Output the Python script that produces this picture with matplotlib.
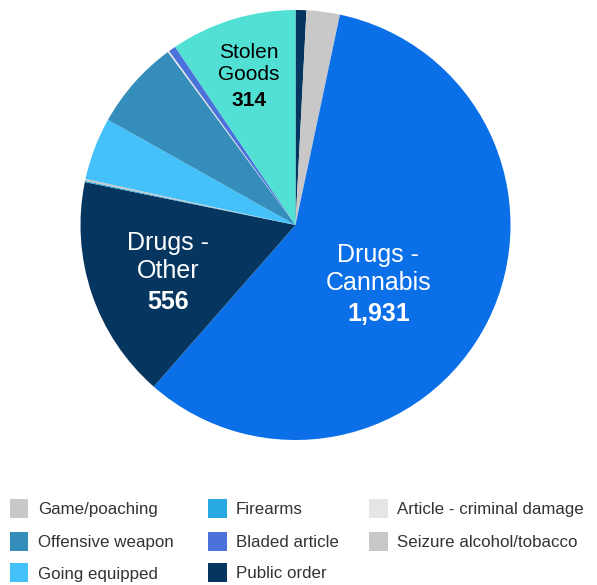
import matplotlib
matplotlib.use("Agg")
import matplotlib.pyplot as plt
from matplotlib.patches import Rectangle

plt.rcParams['font.family'] = ['Liberation Sans', 'DejaVu Sans']

# ---- data (clockwise from 12 o'clock) ----
categories = ["Public order", "Seizure alcohol/tobacco", "Drugs - Cannabis", "Drugs - Other",
              "Firearms", "Game/poaching", "Going equipped", "Offensive weapon",
              "Article - criminal damage", "Bladed article", "Stolen Goods"]
values = [27, 83, 1931, 556, 3, 5, 156, 224, 4, 18, 314]
colors = ["#06365f", "#c8c8c8", "#0b6fe8", "#06365f",
          "#29a9e1", "#c8c8c8", "#45c1fa", "#358dbb",
          "#e5e5e5", "#4a72da", "#52e0d4"]

# labelled slices
label_names = ["Drugs -\nCannabis", "Drugs -\nOther", "Stolen\nGoods"]
label_values = ["1,931", "556", "314"]

# legend entries (row-major, 3 columns)
legend_labels = ["Game/poaching", "Firearms", "Article - criminal damage",
                 "Offensive weapon", "Bladed article", "Seizure alcohol/tobacco",
                 "Going equipped", "Public order"]
legend_colors = ["#c8c8c8", "#29a9e1", "#e5e5e5",
                 "#358dbb", "#4a72da", "#c8c8c8",
                 "#45c1fa", "#06365f"]

W, H = 597, 585
fig = plt.figure(figsize=(W / 100, H / 100), dpi=100)

# pie axes: centre (295.5, 225) px, radius 215 px
cx, cy, r = 295.5, 225, 215
ax = fig.add_axes([(cx - r) / W, (H - cy - r) / H, 2 * r / W, 2 * r / H])
ax.pie(values, colors=colors, startangle=90, counterclock=False,
       radius=1, wedgeprops=dict(linewidth=0))
ax.set_xlim(-1, 1)
ax.set_ylim(-1, 1)
ax.set_aspect('equal')
ax.axis('off')

# label positions (data coords of block centre), style
label_pos = [(0.385, -0.275), (-0.593, -0.218), (-0.216, 0.695)]
label_sizes = [18, 18, 15]
label_colors = ["white", "white", "black"]
for name, val, (x, y), s, c in zip(label_names, label_values, label_pos, label_sizes, label_colors):
    L = s * 1.2
    ax.annotate(name, (x, y), xytext=(0, L / 2), textcoords='offset points',
                ha='center', va='center', fontsize=s, color=c, linespacing=1.2)
    ax.annotate(val, (x, y), xytext=(0, -L), textcoords='offset points',
                ha='center', va='center', fontsize=s, color=c, fontweight='bold')

# legend, manual grid
col_x = [9.5, 207.5, 368.5]
row_y = [508, 541, 572.5]
sq = 19
gap = 9.5
for i, (lab, col) in enumerate(zip(legend_labels, legend_colors)):
    rr, cc = divmod(i, 3)
    x0 = col_x[cc]
    yc = row_y[rr]
    fig.add_artist(Rectangle((x0 / W, (H - yc - sq / 2) / H), sq / W, sq / H,
                             transform=fig.transFigure, facecolor=col, edgecolor='none'))
    fig.text((x0 + sq + gap) / W, (H - yc - 6) / H, lab, ha='left', va='baseline',
             fontsize=12.2, color='#333333')

fig.savefig("out.png", dpi=100)
